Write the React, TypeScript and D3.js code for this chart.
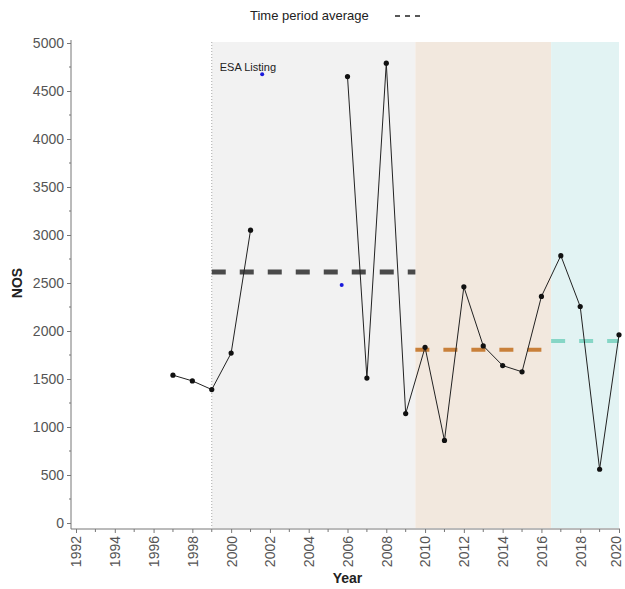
import React, { useEffect, useRef } from 'react';
import * as d3 from 'd3';

const years = [1997, 1998, 1999, 2000, 2001, 2006, 2007, 2008, 2009, 2010, 2011, 2012, 2013, 2014, 2015, 2016, 2017, 2018, 2019, 2020];
const nos = [1540, 1480, 1390, 1770, 3050, 4650, 1510, 4790, 1140, 1830, 860, 2460, 1845, 1640, 1575, 2360, 2785, 2255, 560, 1960];

// periods: start, end, average
const periodNames = ['pre', 'mid', 'recent'];
const periodStart = [1999, 2009.5, 2016.5];
const periodEnd = [2009.5, 2016.5, 2020];
const periodAvg = [2615, 1805, 1895];
const periodFill = ['#f2f2f2', '#f2e8de', '#e2f3f3'];
const periodLine = ['#4a4a4a', '#c9803a', '#86d6c6'];

const esaYear = 1999;
const esaMarks = [{ year: 2001.6, value: 4675 }, { year: 2005.7, value: 2480 }];

const yTicks = d3.range(0, 5001, 500);
const xTicks = d3.range(1992, 2021, 2);

const App = () => {
  const container = useRef(null);
  const width = 625;
  const height = 589;

  useEffect(() => {
    const svg = d3.select(container.current).selectAll('svg').data([0]).join('svg');
    svg
      .attr('width', width)
      .attr('height', height)
      .style('display', 'block')
      .style('font-family', 'Liberation Sans, Arial, sans-serif');
    svg.selectAll('*').remove();

    const xScale = d3.scaleLinear().domain([1992, 2020]).range([76, 619]);
    const yScale = d3.scaleLinear().domain([0, 5000]).range([523, 43]);
    const top = 42;
    const bottom = 528;
    const axisX = 71;

    // background periods
    svg
      .selectAll('.period')
      .data(periodNames)
      .join('rect')
      .attr('class', 'period')
      .attr('x', (d, i) => xScale(periodStart[i]))
      .attr('y', top)
      .attr('width', (d, i) => xScale(periodEnd[i]) - xScale(periodStart[i]))
      .attr('height', bottom - top)
      .style('fill', (d, i) => periodFill[i]);

    // ESA listing line
    svg
      .append('line')
      .attr('x1', xScale(esaYear))
      .attr('x2', xScale(esaYear))
      .attr('y1', top)
      .attr('y2', bottom)
      .style('stroke', '#aaa')
      .style('stroke-width', 1)
      .style('stroke-dasharray', '1,2');

    svg
      .append('text')
      .attr('x', xScale(esaYear) + 8)
      .attr('y', 71)
      .style('font-size', '11px')
      .style('fill', '#222')
      .text('ESA Listing');

    // period averages
    svg
      .selectAll('.avg')
      .data(periodNames)
      .join('line')
      .attr('class', 'avg')
      .attr('x1', (d, i) => xScale(periodStart[i]))
      .attr('x2', (d, i) => xScale(periodEnd[i]))
      .attr('y1', (d, i) => yScale(periodAvg[i]))
      .attr('y2', (d, i) => yScale(periodAvg[i]))
      .style('stroke', (d, i) => periodLine[i])
      .style('stroke-width', (d, i) => (i == 0 ? 5 : 4))
      .style('stroke-dasharray', '14,14');

    // series line
    const line = d3
      .line()
      .x(d => xScale(d[0]))
      .y(d => yScale(d[1]));
    const pts = years.map((y, i) => [y, nos[i]]);
    const segs = [pts.slice(0, 5), pts.slice(5)];
    svg
      .selectAll('.series-line')
      .data(segs)
      .join('path')
      .attr('class', 'series-line')
      .attr('d', d => line(d))
      .style('stroke', '#222')
      .style('stroke-width', 1)
      .style('fill', 'none');

    svg
      .selectAll('.pt')
      .data(pts)
      .join('circle')
      .attr('class', 'pt')
      .attr('cx', d => xScale(d[0]))
      .attr('cy', d => yScale(d[1]))
      .attr('r', 2.6)
      .style('fill', '#111');

    svg
      .selectAll('.esa')
      .data(esaMarks)
      .join('circle')
      .attr('class', 'esa')
      .attr('cx', d => xScale(d.year))
      .attr('cy', d => yScale(d.value))
      .attr('r', 2)
      .style('fill', '#1a1adc');

    // axes
    const yAxis = d3
      .axisLeft(yScale)
      .tickValues(yTicks)
      .tickSize(4)
      .tickFormat(d3.format('d'));
    const yg = svg.append('g').attr('transform', `translate(${axisX},0)`).call(yAxis);
    yg.select('.domain').remove();
    yg.append('line').attr('x1', 0).attr('x2', 0).attr('y1', 40).attr('y2', bottom + 1).style('stroke', '#777');
    yg.selectAll('.minor')
      .data(d3.range(250, 5000, 500))
      .join('line')
      .attr('class', 'minor')
      .attr('x1', -2)
      .attr('x2', 0)
      .attr('y1', d => yScale(d))
      .attr('y2', d => yScale(d))
      .style('stroke', '#777');
    yg.selectAll('.tick line').style('stroke', '#777');
    yg.selectAll('.tick text')
      .style('font-size', '14px')
      .style('fill', '#555')
      .style('font-family', 'Liberation Sans, Arial, sans-serif');

    const xAxis = d3.axisBottom(xScale).tickValues(xTicks).tickSize(4).tickFormat(d3.format('d'));
    const xg = svg.append('g').attr('transform', `translate(0,${bottom + 1})`).call(xAxis);
    xg.select('.domain').remove();
    xg.append('line').attr('x1', axisX).attr('x2', 620).attr('y1', 0).attr('y2', 0).style('stroke', '#777');
    xg.selectAll('.minor')
      .data(d3.range(1993, 2020, 2))
      .join('line')
      .attr('class', 'minor')
      .attr('x1', d => xScale(d))
      .attr('x2', d => xScale(d))
      .attr('y1', 0)
      .attr('y2', 3)
      .style('stroke', '#777');
    xg.selectAll('.tick line').style('stroke', '#777');
    // last label sits at the right edge, nudge it in a bit
    xg.selectAll('.tick text')
      .style('font-size', '14px')
      .style('fill', '#555')
      .style('font-family', 'Liberation Sans, Arial, sans-serif')
      .attr('text-anchor', 'end')
      .attr('dy', '0.35em')
      .attr('transform', d => `translate(${d == 2020 ? -3 : 0},7)rotate(-90)`)
      .attr('x', 0)
      .attr('y', 0);

    // labels
    svg
      .append('text')
      .attr('x', (xScale(1992) + xScale(2020)) / 2)
      .attr('y', 583)
      .attr('text-anchor', 'middle')
      .style('font-size', '14px')
      .style('font-weight', 'bold')
      .style('fill', '#222')
      .text('Year');

    svg
      .append('text')
      .attr('transform', `translate(22,${yScale(2500)})rotate(-90)`)
      .attr('text-anchor', 'middle')
      .style('font-size', '14px')
      .style('font-weight', 'bold')
      .style('fill', '#222')
      .text('NOS');

    // legend
    svg
      .append('text')
      .attr('x', 250)
      .attr('y', 20)
      .style('font-size', '13px')
      .style('fill', '#222')
      .text('Time period average');
    svg
      .append('line')
      .attr('x1', 395)
      .attr('x2', 420)
      .attr('y1', 16)
      .attr('y2', 16)
      .style('stroke', '#222')
      .style('stroke-width', 1.6)
      .style('stroke-dasharray', '5,5');
  }, []);

  return (
    <div className="chart-container" ref={container} style={{ position: 'absolute', left: 0, top: 0 }}></div>
  );
};

export default App;
